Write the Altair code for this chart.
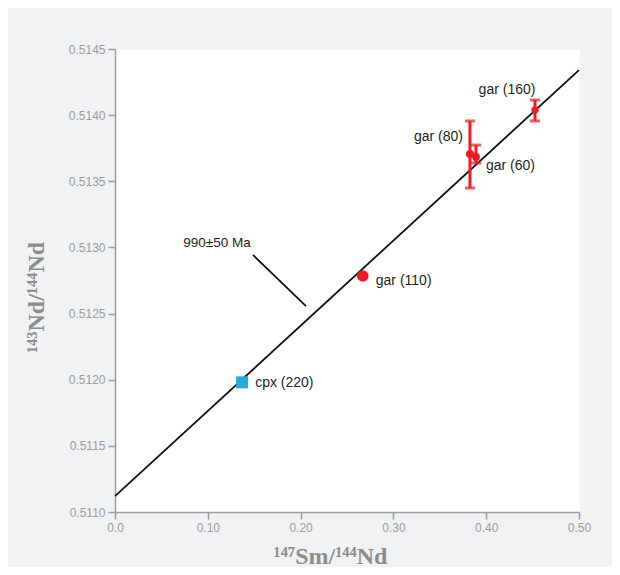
import altair as alt
import pandas as pd

# ---- data ----
names = ["cpx (220)", "gar (110)", "gar (80)", "gar (60)", "gar (160)"]
minerals = ["cpx", "gar", "gar", "gar", "gar"]
sm_nd = [0.137, 0.267, 0.3825, 0.389, 0.4526]
nd_nd = [0.51198, 0.512784, 0.513706, 0.513684, 0.514039]
err_hi = [None, None, 0.513956, 0.513774, 0.514114]
err_lo = [None, None, 0.513449, 0.513638, 0.513956]

iso_x = [0.0, 0.5]
iso_y = [0.51112, 0.51434]

age_text = "990±50 Ma"
age_text_x = [0.110]
age_text_y = [0.513033]
leader_x = [0.1487, 0.2058]
leader_y = [0.512943, 0.512557]

y_ticks = [0.5110, 0.5115, 0.5120, 0.5125, 0.5130, 0.5135, 0.5140, 0.5145]
x_ticks = [0.0, 0.1, 0.2, 0.3, 0.4, 0.5]

# ---- styles ----
RED = "#ed1c24"
BLUE = "#27a9e1"
TXT = "#231f20"
GREY = "#9d9d9d"
marker_size = {"cpx (220)": 144, "gar (110)": 135, "gar (80)": 65, "gar (60)": 60, "gar (160)": 55}
label_offset = {
    "gar (160)": (-28, -20, "center"),
    "gar (80)": (-7, -17, "right"),
    "gar (60)": (10, 9, "left"),
    "gar (110)": (13, 5, "left"),
    "cpx (220)": (13, 1, "left"),
}

df = pd.DataFrame({"name": names, "mineral": minerals, "x": sm_nd, "y": nd_nd,
                   "hi": err_hi, "lo": err_lo})
df["size"] = df["name"].map(marker_size)
err_df = df.dropna(subset=["hi"])
iso_df = pd.DataFrame({"x": iso_x, "y": iso_y})
lead_df = pd.DataFrame({"x": leader_x, "y": leader_y})
age_df = pd.DataFrame({"x": age_text_x, "y": age_text_y, "t": [age_text]})

xscale = alt.Scale(domain=[0, 0.5], nice=False, zero=False)
yscale = alt.Scale(domain=[0.5110, 0.5145], nice=False, zero=False)

X = alt.X("x:Q", scale=xscale,
          axis=alt.Axis(title="¹⁴⁷Sm/¹⁴⁴Nd", values=x_ticks, labelFlush=False,
                        labelExpr="datum.value == 0 ? '0.0' : format(datum.value, '.2f')",
                        titleX=215, titleY=51, titleBaseline="alphabetic",
                        titleAlign="center"))
Y = alt.Y("y:Q", scale=yscale,
          axis=alt.Axis(title="¹⁴³Nd/¹⁴⁴Nd", values=y_ticks, format=".4f", labelFlush=False,
                        titleX=-72, titleY=248, titleBaseline="alphabetic",
                        titleAlign="center"))

iso = alt.Chart(iso_df).mark_line(color="#111111", strokeWidth=1.8).encode(x=X, y=Y)
lead = alt.Chart(lead_df).mark_line(color="#111111", strokeWidth=1.8).encode(x="x:Q", y="y:Q")
age = alt.Chart(age_df).mark_text(font="Liberation Sans", fontSize=13.5, color=TXT,
                                  align="center", baseline="middle").encode(
    x="x:Q", y="y:Q", text="t:N")

bars = alt.Chart(err_df).mark_rule(color=RED, strokeWidth=3).encode(
    x="x:Q", y="lo:Q", y2="hi:Q")
caps_hi = alt.Chart(err_df).mark_tick(color=RED, orient="horizontal", size=10, thickness=3).encode(
    x="x:Q", y="hi:Q")
caps_lo = alt.Chart(err_df).mark_tick(color=RED, orient="horizontal", size=10, thickness=3).encode(
    x="x:Q", y="lo:Q")

gar = alt.Chart(df[df["mineral"] == "gar"]).mark_circle(color=RED, opacity=1).encode(
    x="x:Q", y="y:Q", size=alt.Size("size:Q", scale=None, legend=None))
cpx = alt.Chart(df[df["mineral"] == "cpx"]).mark_square(color=BLUE, opacity=1).encode(
    x="x:Q", y="y:Q", size=alt.Size("size:Q", scale=None, legend=None))

labels = []
for n in names:
    dx, dy, al = label_offset[n]
    labels.append(
        alt.Chart(df[df["name"] == n]).mark_text(
            font="Liberation Sans", fontSize=14, color=TXT, align=al, baseline="middle",
            dx=dx, dy=dy).encode(x="x:Q", y="y:Q", text="name:N"))

chart = alt.layer(iso, lead, age, bars, caps_hi, caps_lo, gar, cpx, *labels).properties(
    width=464, height=463,
    background="#f1f2f4",
    padding={"left": 107, "top": 41, "right": 33, "bottom": 55},
    autosize=alt.AutoSizeParams(type="none"),
).configure_view(fill="white", stroke="transparent").configure_axis(
    grid=False, domainColor=GREY, domainWidth=1.5, tickColor=GREY, tickWidth=1.5, tickSize=7,
    labelColor=GREY, labelFont="Liberation Sans", labelFontSize=12, labelPadding=3,
    titleFont="Liberation Serif", titleFontWeight="bold", titleFontSize=24, titleColor="#8d8d8d",
)

chart.save("out.html", embed_options={"renderer": "svg", "actions": False})
